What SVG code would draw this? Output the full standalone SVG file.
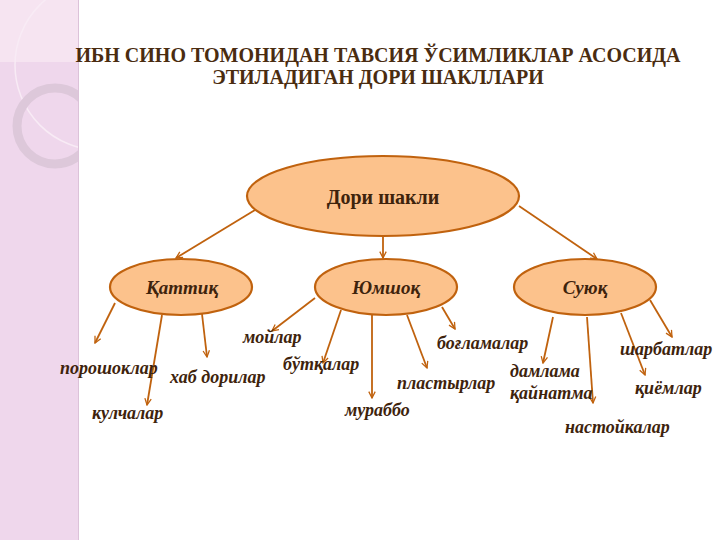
<svg xmlns="http://www.w3.org/2000/svg" width="720" height="540" viewBox="0 0 720 540">
<defs>
<marker id="ah" viewBox="0 0 10 10" refX="9" refY="5" markerWidth="8" markerHeight="8" orient="auto" markerUnits="userSpaceOnUse">
<path d="M1,1 L9,5 L1,9" fill="none" stroke="#c0620e" stroke-width="1.6"/>
</marker>
<clipPath id="strip"><rect x="0" y="0" width="78" height="540"/></clipPath>
<style>
.title{font-family:"Liberation Serif","Times New Roman",serif;font-weight:bold;font-size:20px;fill:#4a2c10;text-anchor:middle}
.node ellipse{fill:#fcc28c;stroke:#c0620e;stroke-width:2.2}
.main{font-family:"Liberation Serif",serif;font-weight:bold;font-size:20px;fill:#3e230c;text-anchor:middle}
.sub{font-family:"Liberation Serif",serif;font-weight:bold;font-style:italic;font-size:19px;fill:#3e230c;text-anchor:middle}
.lbl{font-family:"Liberation Serif",serif;font-weight:bold;font-style:italic;font-size:18px;fill:#3e230c}
.conn line{stroke:#c0620e;stroke-width:1.8;marker-end:url(#ah)}
</style>
</defs>
<rect width="720" height="540" fill="#ffffff"/>
<g id="sidebar">
<rect x="0" y="0" width="78" height="540" fill="#efd7ec"/>
<rect x="0" y="0" width="78" height="62" fill="#f6e4f1"/>
<line x1="78.5" y1="0" x2="78.5" y2="540" stroke="#dcc2d9" stroke-width="1"/>
<g clip-path="url(#strip)">
<circle cx="100" cy="65" r="85" fill="none" stroke="#f8ebf5" stroke-width="1.5"/>
<circle cx="55" cy="126" r="38" fill="none" stroke="#ddc8da" stroke-width="9"/>
</g>
</g>
<g id="title">
<text class="title" x="378" y="62">ИБН СИНО ТОМОНИДАН ТАВСИЯ ЎСИМЛИКЛАР АСОСИДА</text>
<text class="title" x="378" y="84">ЭТИЛАДИГАН ДОРИ ШАКЛЛАРИ</text>
</g>
<g id="connectors" class="conn">
<line x1="255" y1="210" x2="176" y2="258"/>
<line x1="383" y1="236" x2="383" y2="258"/>
<line x1="519" y1="206" x2="597" y2="259"/>
<line x1="115" y1="303" x2="95" y2="343"/>
<line x1="162" y1="315" x2="147" y2="405"/>
<line x1="202" y1="314" x2="207" y2="357"/>
<line x1="315" y1="298" x2="272" y2="331"/>
<line x1="341" y1="310" x2="323" y2="363"/>
<line x1="372" y1="315" x2="372" y2="398"/>
<line x1="407" y1="315" x2="427" y2="368"/>
<line x1="442" y1="307" x2="455" y2="329"/>
<line x1="553" y1="317" x2="543" y2="363"/>
<line x1="587" y1="317" x2="593" y2="403"/>
<line x1="621" y1="313" x2="645" y2="375"/>
<line x1="650" y1="300" x2="672" y2="337"/>
</g>
<g id="n-main" class="node">
<ellipse cx="383" cy="196" rx="136" ry="40"/>
<text class="main" x="383" y="204">Дори шакли</text>
</g>
<g id="n-qattiq" class="node">
<ellipse cx="181" cy="287" rx="71" ry="28"/>
<text class="sub" x="182" y="294">Қаттиқ</text>
</g>
<g id="n-yumshoq" class="node">
<ellipse cx="386" cy="287" rx="71" ry="28"/>
<text class="sub" x="386" y="294">Юмшоқ</text>
</g>
<g id="n-suyuq" class="node">
<ellipse cx="585" cy="287" rx="71" ry="28"/>
<text class="sub" x="585" y="294">Суюқ</text>
</g>
<g id="labels">
<text class="lbl" x="60" y="374">порошоклар</text>
<text class="lbl" x="92" y="419">кулчалар</text>
<text class="lbl" x="170" y="383">хаб дорилар</text>
<text class="lbl" x="243" y="343">мойлар</text>
<text class="lbl" x="283" y="370">бўтқалар</text>
<text class="lbl" x="345" y="416">мураббо</text>
<text class="lbl" x="397" y="389">пластырлар</text>
<text class="lbl" x="437" y="349">боғламалар</text>
<text class="lbl" x="510" y="377">дамлама</text>
<text class="lbl" x="510" y="399">қайнатма</text>
<text class="lbl" x="620" y="355">шарбатлар</text>
<text class="lbl" x="635" y="394">қиёмлар</text>
<text class="lbl" x="565" y="433">настойкалар</text>
</g>
</svg>
